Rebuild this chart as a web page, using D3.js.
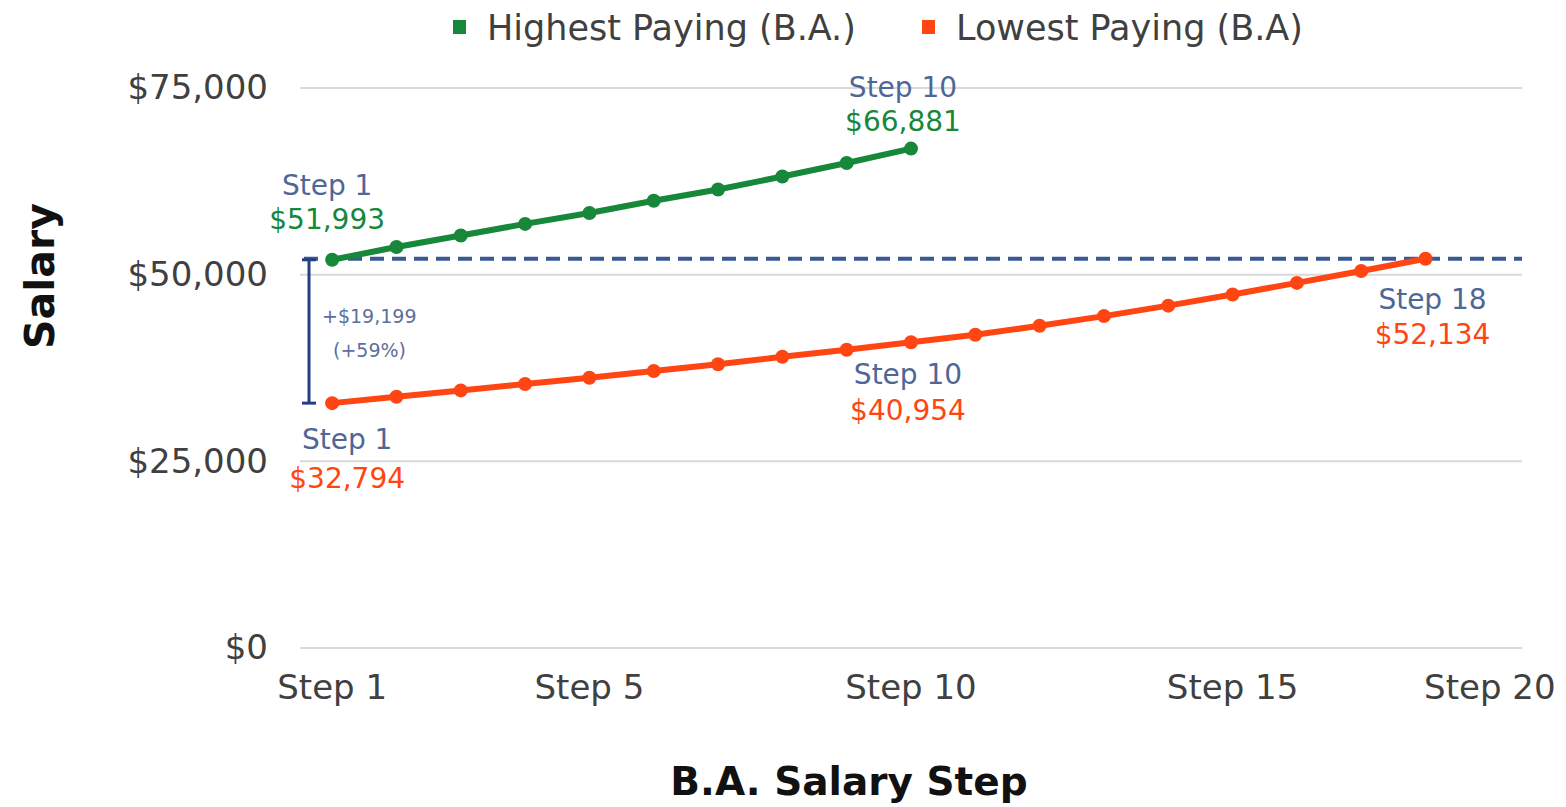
<!DOCTYPE html>
<html>
<head>
<meta charset="utf-8">
<script src="https://cdn.jsdelivr.net/npm/d3@7"></script>
<style>
  body { margin: 0; background: #fff; }
  text { font-family: "DejaVu Sans", sans-serif; }
</style>
</head>
<body>
<svg width="1566" height="807"></svg>
<script>
// x categories (tick labels shown only on some of them)
const stepLabels = ["Step 1", "", "", "", "Step 5", "", "", "", "", "Step 10",
                    "", "", "", "", "Step 15", "", "", "", "Step 20"];
const seriesNames = ["Highest Paying (B.A.)", "Lowest Paying (B.A)"];
const highestPaying = [51993, 53700, 55250, 56800, 58250, 59900, 61400, 63150, 64950, 66881];
const lowestPaying = [32794, 33650, 34500, 35350, 36200, 37100, 38000, 39000, 39950, 40954,
                      41950, 43150, 44450, 45850, 47350, 48900, 50500, 52134];
const yTicks = [0, 25000, 50000, 75000];

const green = "#17873a", orange = "#ff4612", slate = "#4f6797", navy = "#223f86";

const svg = d3.select("svg");
const plot = { left: 300, right: 1522, top: 88, bottom: 648 };

let x = d3.scaleBand().domain(d3.range(stepLabels.length)).range([plot.left, plot.right]);
let y = d3.scaleLinear().domain([0, 75000]).range([plot.bottom, plot.top]);
const cx = i => x(i) + x.bandwidth() / 2;
const fmt = d3.format("$,");

// gridlines
svg.append("g")
    .selectAll("line")
    .data(yTicks)
    .enter()
    .append("line")
    .attr("x1", plot.left).attr("x2", plot.right)
    .attr("y1", d => y(d)).attr("y2", d => y(d))
    .attr("stroke", "#d9d9d9")
    .attr("stroke-width", 2);

// y axis labels
svg.append("g")
    .attr("transform", "translate(" + (plot.left - 4) + ",0)")
    .call(d3.axisLeft(y).tickValues(yTicks).tickFormat(fmt).tickSize(0).tickPadding(28))
    .call(g => g.select(".domain").remove())
    .selectAll("text")
    .attr("font-size", 34)
    .attr("fill", "#404040")
    .style("font-family", "DejaVu Sans");

// x axis labels
svg.append("g")
    .attr("transform", "translate(0," + plot.bottom + ")")
    .call(d3.axisBottom(x).tickFormat(i => stepLabels[i]).tickSize(0).tickPadding(27))
    .call(g => g.select(".domain").remove())
    .selectAll("text")
    .attr("font-size", 34)
    .attr("fill", "#404040")
    .style("font-family", "DejaVu Sans");

// reference dashed line at lowest-paying top step
svg.append("line")
    .attr("x1", plot.left + 4).attr("x2", plot.right)
    .attr("y1", y(lowestPaying[lowestPaying.length - 1]))
    .attr("y2", y(lowestPaying[lowestPaying.length - 1]))
    .attr("stroke", "#3a5894")
    .attr("stroke-width", 4)
    .attr("stroke-dasharray", "14,8");

// bracket showing the gap between the two Step 1 salaries
const bx = plot.left + 9;
const gap = highestPaying[0] - lowestPaying[0];
const bracket = svg.append("g").attr("stroke", navy).attr("stroke-width", 3);
bracket.append("line").attr("x1", bx).attr("x2", bx)
    .attr("y1", y(highestPaying[0])).attr("y2", y(lowestPaying[0]));
[highestPaying[0], lowestPaying[0]].forEach(v => {
    bracket.append("line").attr("x1", bx - 7).attr("x2", bx + 7)
        .attr("y1", y(v)).attr("y2", y(v));
});
svg.append("text")
    .attr("x", bx + 13).attr("y", 323)
    .attr("font-size", 19).attr("fill", "#5b6f9e")
    .text("+" + fmt(gap));
svg.append("text")
    .attr("x", bx + 24).attr("y", 357)
    .attr("font-size", 19).attr("fill", "#5b6f9e")
    .text("(+" + Math.round(gap / lowestPaying[0] * 100) + "%)");

// lines and markers
const line = d3.line().x((d, i) => cx(i)).y(d => y(d));
[[highestPaying, green], [lowestPaying, orange]].forEach(([data, color]) => {
    svg.append("path")
        .datum(data)
        .attr("d", line)
        .attr("fill", "none")
        .attr("stroke", color)
        .attr("stroke-width", 6)
        .attr("stroke-linejoin", "round");
    svg.append("g")
        .selectAll("circle")
        .data(data)
        .enter()
        .append("circle")
        .attr("cx", (d, i) => cx(i))
        .attr("cy", d => y(d))
        .attr("r", 7)
        .attr("fill", color);
});

// point annotations: [series, index, color, dx, step dy, value dy]
const notes = [
    [highestPaying, 0, green, -5, -65, -31],
    [highestPaying, 9, green, -8, -52, -18],
    [lowestPaying, 0, orange, 15, 46, 85],
    [lowestPaying, 9, orange, -3, 42, 78],
    [lowestPaying, 17, orange, 7, 50, 85]
];
notes.forEach(([data, i, color, dx, dyStep, dyVal]) => {
    const px = cx(i) + dx, py = y(data[i]);
    svg.append("text")
        .attr("x", px).attr("y", py + dyStep)
        .attr("text-anchor", "middle")
        .attr("font-size", 28).attr("fill", slate)
        .text("Step " + (i + 1));
    svg.append("text")
        .attr("x", px).attr("y", py + dyVal)
        .attr("text-anchor", "middle")
        .attr("font-size", 28).attr("fill", color)
        .text(fmt(data[i]));
});

// legend
const legend = svg.append("g");
[[seriesNames[0], green, 453], [seriesNames[1], orange, 922]].forEach(([name, color, lx]) => {
    legend.append("rect")
        .attr("x", lx).attr("y", 20)
        .attr("width", 13).attr("height", 14)
        .attr("fill", color);
    legend.append("text")
        .attr("x", lx + 34).attr("y", 40)
        .attr("font-size", 35).attr("fill", "#404040")
        .text(name);
});

// axis titles
svg.append("text")
    .attr("x", 849).attr("y", 795)
    .attr("text-anchor", "middle")
    .attr("font-size", 39).attr("font-weight", "bold").attr("fill", "#111")
    .text("B.A. Salary Step");

svg.append("text")
    .attr("transform", "translate(54,276) rotate(-90)")
    .attr("text-anchor", "middle")
    .attr("font-size", 41).attr("font-weight", "bold").attr("fill", "#111")
    .text("Salary");
</script>
</body>
</html>
